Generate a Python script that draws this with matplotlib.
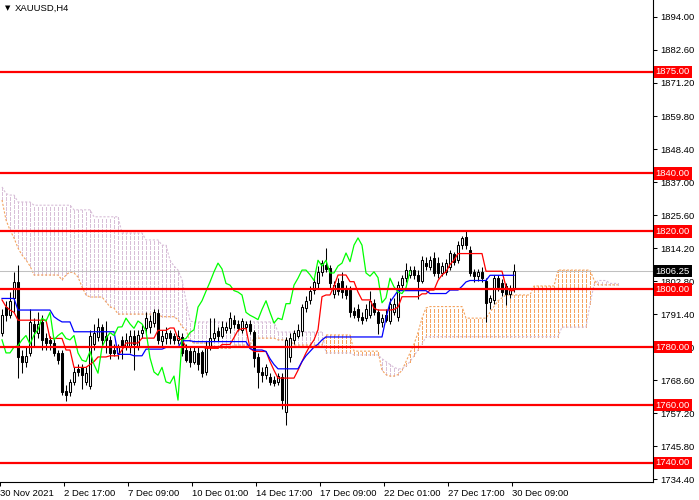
import numpy as np
import matplotlib
matplotlib.use("Agg")
import matplotlib.pyplot as plt

plt.rcParams['font.family'] = ['Liberation Sans', 'DejaVu Sans']

# chart data, H4 bars
symbol = 'XAUUSD,H4'
opens = [1785, 1794, 1791, 1797, 1802.5, 1777, 1775, 1778, 1788, 1785,
         1788.5, 1783, 1782.5, 1781.5, 1778, 1778, 1765, 1764.5, 1768, 1772.5,
         1773, 1768, 1766.5, 1781, 1783.5, 1787, 1784, 1782.5, 1779, 1778,
         1782.5, 1780.5, 1780, 1784, 1780, 1785, 1786.6, 1787, 1788.3, 1791.7,
         1782, 1783, 1785, 1784, 1782.5, 1783.5, 1779, 1778.5, 1775, 1778,
         1778.3, 1771.4, 1780, 1783, 1785.5, 1784, 1786, 1786.6, 1789.5, 1788,
         1786, 1787, 1788, 1785.3, 1776.5, 1771.4, 1770.3, 1769.6, 1768.5, 1768,
         1769.6, 1757.6, 1776.6, 1782.5, 1784, 1785.7, 1793.5, 1796.3, 1799.7, 1802,
         1806, 1808.5, 1807.3, 1798.5, 1802, 1803, 1800, 1799.7, 1792.5, 1793,
         1790.5, 1790, 1791, 1795.3, 1792, 1788.5, 1791, 1789, 1792, 1790.5,
         1801.4, 1803.8, 1805, 1806.5, 1805, 1803, 1809, 1807.7, 1810.8, 1809,
         1805.5, 1806, 1807.7, 1812, 1810, 1815.2, 1818, 1813.5, 1806, 1804.5,
         1806, 1803, 1795.5, 1796.3, 1803.8, 1802, 1801, 1798.5, 1800]
highs = [1793, 1796, 1799, 1806, 1808.5, 1779, 1780, 1793, 1790, 1792,
         1791, 1785, 1784, 1783, 1779, 1779, 1767, 1769, 1773, 1774,
         1774, 1773, 1786, 1788, 1790, 1788, 1789, 1784, 1781, 1781,
         1784, 1785, 1786, 1786, 1786, 1788, 1792, 1791, 1793, 1793,
         1786, 1787, 1786, 1785, 1786, 1785, 1781, 1780, 1780, 1780,
         1779, 1782, 1790, 1790, 1787, 1789, 1788.5, 1792, 1791, 1789.5,
         1790, 1789, 1789.5, 1786, 1778, 1773, 1774, 1771, 1770, 1771,
         1771, 1783.5, 1785, 1786, 1788, 1795, 1797.5, 1801, 1804, 1808,
         1810, 1814.2, 1808.5, 1803, 1804, 1806, 1801.5, 1801, 1794, 1795,
         1792, 1795, 1799.5, 1796.5, 1793, 1791.5, 1793, 1797, 1797, 1803,
         1805, 1809, 1808, 1808, 1806.5, 1811.5, 1811, 1811.5, 1813, 1811,
         1809.5, 1810.5, 1813.5, 1813, 1816.5, 1818.5, 1820.5, 1815, 1807, 1807,
         1807.5, 1804, 1798, 1805, 1805, 1803.5, 1802, 1801.5, 1808.7]
lows = [1784, 1789, 1790, 1792, 1769.5, 1771, 1773, 1777, 1780, 1783,
        1779, 1779, 1779, 1777, 1774, 1763.5, 1761.5, 1763, 1767, 1770,
        1765.5, 1767, 1765.5, 1779, 1782, 1780, 1778, 1776, 1777, 1776,
        1776, 1779, 1778, 1772, 1779, 1783, 1785, 1785, 1787, 1781,
        1780, 1781, 1781, 1781, 1781, 1777, 1775, 1773, 1774, 1772,
        1769.6, 1770.5, 1779, 1782, 1782, 1783, 1785, 1785, 1786.5, 1785.5,
        1785, 1786, 1784.5, 1773, 1766, 1768, 1769, 1767, 1766.5, 1767,
        1758.5, 1753.1, 1775, 1781, 1783, 1784, 1792, 1795, 1798.5, 1800.5,
        1804.5, 1806, 1800.5, 1797, 1798, 1797, 1796.5, 1790.5, 1790, 1789,
        1788, 1789, 1790, 1791, 1784.5, 1787, 1788.5, 1788, 1791, 1789,
        1800, 1802.5, 1804, 1803.5, 1796.5, 1802, 1806.5, 1806.5, 1804.5, 1804,
        1804.5, 1805, 1806.5, 1808.5, 1809, 1814, 1814, 1804.5, 1802.5, 1803,
        1802.5, 1788.6, 1793, 1795, 1799.5, 1797.5, 1794.5, 1797, 1799]
closes = [1791, 1791, 1796, 1802.5, 1776.5, 1775, 1777, 1788.5, 1785.5, 1788,
          1782.5, 1781.5, 1781.5, 1778, 1775.5, 1764.5, 1763.5, 1768, 1771.5, 1771.5,
          1770.5, 1771, 1784, 1785, 1787, 1782.5, 1782.5, 1778, 1778, 1780,
          1780.5, 1782.5, 1784, 1781, 1784.2, 1786, 1790, 1789, 1792, 1782.5,
          1784, 1785, 1783, 1782.5, 1784, 1778, 1775.5, 1775, 1778.5, 1774,
          1771, 1780, 1783, 1785, 1784, 1786.9, 1787, 1790, 1788, 1786.5,
          1789, 1788, 1785.5, 1776.3, 1771.4, 1770.3, 1773, 1768, 1767.5, 1770,
          1761.7, 1782.5, 1783, 1785, 1786, 1793.8, 1796, 1799.3, 1802.5, 1806,
          1809, 1807, 1802, 1801.4, 1799.5, 1799, 1798, 1792, 1791, 1790.3,
          1789.5, 1793, 1796, 1792, 1788.3, 1790, 1789.5, 1795, 1795, 1801.4,
          1803.8, 1806.6, 1806.6, 1805, 1803, 1810, 1808, 1810, 1805.6, 1805.6,
          1808, 1809, 1812.5, 1809.5, 1815.2, 1817.7, 1815.2, 1805.6, 1804.5, 1806,
          1804, 1795.3, 1797, 1803.8, 1800.8, 1799, 1798.5, 1800.5, 1806.25]

# Ichimoku lines as shown on the chart
tenkan = [1796.3, 1794, 1792.8, 1792, 1789.3, 1789.3, 1789.3, 1789.3, 1789.3, 1789.3,
          1789.3, 1789.3, 1783, 1783, 1783, 1783, 1779, 1779, 1773, 1773,
          1773, 1773, 1774, 1775, 1776.6, 1776.6, 1776.6, 1777, 1777, 1777,
          1779, 1781.4, 1781.4, 1781.4, 1781.4, 1783.1, 1783.1, 1783.1, 1783.1, 1785.8,
          1785.8, 1785.8, 1786.6, 1786.6, 1783, 1782.5, 1780.1, 1780.1, 1780.1, 1780.1,
          1780.1, 1779.6, 1779.6, 1779.6, 1779.6, 1780.9, 1780.9, 1780.9, 1783.3, 1785.8,
          1786.4, 1786.4, 1779.6, 1778.5, 1778.5, 1778.5, 1778.5, 1775, 1772, 1769.3,
          1769.3, 1769.3, 1769.3, 1769.3, 1772, 1775, 1778, 1780.5, 1782.5, 1786,
          1797.4, 1798, 1798, 1801, 1804.9, 1804.9, 1804.9, 1802.6, 1802.6, 1799,
          1796.3, 1796.3, 1796.3, 1793.4, 1792.8, 1792.8, 1792.8, 1792.8, 1793, 1793.8,
          1797.4, 1797.4, 1797.4, 1797.4, 1797.4, 1798.4, 1798.4, 1799.7, 1799.7, 1803,
          1804.9, 1806, 1808.5, 1810, 1812.3, 1812.3, 1812.3, 1812.3, 1812.3, 1812.3,
          1812.3, 1806.2, 1806.2, 1806.2, 1806.2, 1806.2, 1800.8, 1799.5, 1799.5]
kijun = [1796.8, 1796.8, 1796.8, 1796.8, 1792.8, 1792.8, 1792.8, 1792.8, 1792.8, 1792.8,
         1792.8, 1792.8, 1792.8, 1790.5, 1789.5, 1788.7, 1788.7, 1788.7, 1785.3, 1785.3,
         1785.3, 1785.3, 1785.3, 1785.3, 1785.3, 1785.3, 1785.3, 1785.3, 1785.3, 1777.5,
         1777.5, 1777.5, 1777.5, 1777, 1777, 1777, 1779.3, 1779.3, 1779.3, 1779.3,
         1779.3, 1779.9, 1779.9, 1779.9, 1779.9, 1782.2, 1782.2, 1782.2, 1781.9, 1781.9,
         1781.9, 1781.9, 1781.9, 1781.9, 1781.9, 1781.9, 1781.9, 1781.9, 1781.9, 1781.9,
         1781.9, 1781.9, 1779.5, 1779, 1779, 1779, 1778.5, 1776, 1774, 1772.5,
         1772.5, 1772.5, 1772.5, 1772.5, 1772.5, 1775, 1777, 1778.5, 1780, 1781,
         1782.5, 1783.5, 1783.5, 1783.5, 1783.5, 1783.5, 1783.5, 1783.5, 1783.5, 1783.5,
         1783.5, 1783.5, 1783.5, 1783.5, 1783.5, 1783.5, 1790, 1795.5, 1797.5, 1799.5,
         1799.5, 1799.5, 1799.5, 1799.5, 1799.5, 1799.5, 1799.5, 1798.5, 1798.5, 1798.5,
         1798.5, 1798.5, 1799.7, 1799.7, 1799.7, 1801, 1802.5, 1803, 1803, 1803,
         1803, 1803, 1804.8, 1804.8, 1804.8, 1804.8, 1804.8, 1804.8, 1804.8]
span_a = [1830.8, 1823.9, 1820.4, 1817.7, 1814.2, 1811.8, 1810.1, 1808, 1804.9, 1804.9,
          1804.9, 1804.9, 1804.9, 1804.9, 1804.9, 1803.2, 1804.9, 1806, 1805.6, 1804.2,
          1800.8, 1798, 1797.3, 1797.3, 1797.3, 1797.3, 1795.6, 1793.9, 1793.5, 1791.4,
          1791.4, 1791.4, 1791.4, 1791.4, 1791.4, 1791.4, 1791.4, 1791.4, 1791.4, 1791.4,
          1790.5, 1790.5, 1790.5, 1790.5, 1789.5, 1787, 1786, 1782, 1781.4, 1781.4,
          1781.4, 1781.4, 1781.4, 1779.6, 1779.6, 1779.6, 1779.6, 1779.6, 1780.7, 1780.7,
          1780.7, 1780.7, 1780.7, 1783.1, 1783.1, 1783.1, 1783.1, 1783.1, 1783.1, 1782.5,
          1782.5, 1782.5, 1782.5, 1780.7, 1780.7, 1780.7, 1780.7, 1780.7, 1780.7, 1780.7,
          1780.7, 1784.2, 1784.2, 1784.2, 1784.2, 1784.2, 1784.2, 1784.2, 1778.6, 1778.6,
          1778.6, 1778.6, 1778.6, 1778.6, 1778.6, 1772, 1770.5, 1770, 1770, 1770.5,
          1772, 1775, 1778, 1781, 1785, 1790, 1793.5, 1794, 1794, 1794,
          1794, 1794, 1794, 1794, 1794, 1794, 1790, 1790, 1790, 1790,
          1790, 1790, 1792, 1794, 1796, 1797, 1798, 1798, 1798, 1798,
          1798, 1798, 1798, 1801.1, 1801.1, 1801.1, 1801.1, 1801.1, 1801.1, 1806.6,
          1806.6, 1806.6, 1806.6, 1806.6, 1806.6, 1806.6, 1806.6, 1806.6, 1803.2, 1801.5,
          1801.5, 1801.5, 1801.5, 1801.5, 1801.5]
span_b = [1835.3, 1833, 1832.5, 1832.5, 1830.1, 1830.1, 1830.1, 1830.1, 1829, 1829,
          1829, 1829, 1829, 1829, 1829, 1829, 1829, 1829, 1827.4, 1827.4,
          1827.4, 1827.4, 1827.4, 1825, 1825, 1825, 1825, 1825, 1825, 1825,
          1819.4, 1819.4, 1819.4, 1819.4, 1819.4, 1819.4, 1817, 1817, 1817, 1817,
          1815.2, 1815.2, 1810, 1808, 1806.6, 1803.2, 1796, 1789, 1788.7, 1788.7,
          1788.7, 1788.7, 1788.7, 1788.7, 1788.7, 1788.7, 1788.7, 1788.7, 1788.7, 1788.7,
          1788.7, 1788.7, 1788.7, 1788.7, 1788.7, 1788.7, 1788.7, 1788.7, 1788.7, 1785.2,
          1785.2, 1785.2, 1785.2, 1785.2, 1785.2, 1785.2, 1785.2, 1785.2, 1785.2, 1785.2,
          1785.2, 1778, 1778, 1778, 1778, 1778, 1778, 1778, 1777.3, 1777.3,
          1777.3, 1777.3, 1777.3, 1777.3, 1777.3, 1776, 1775, 1774, 1773, 1772.5,
          1772.5, 1773.5, 1775, 1777, 1779, 1781, 1783.6, 1783.6, 1783.6, 1783.6,
          1783.6, 1783.6, 1783.6, 1783.6, 1783.6, 1783.6, 1783.6, 1783.6, 1783.6, 1783.6,
          1783.6, 1783.6, 1783.6, 1783.6, 1783.6, 1783.6, 1783.6, 1783.6, 1783.6, 1783.6,
          1783.6, 1783.6, 1783.6, 1783.6, 1783.6, 1783.6, 1783.6, 1783.6, 1783.6, 1783.6,
          1786.9, 1786.9, 1786.9, 1786.9, 1786.9, 1786.9, 1786.9, 1795, 1801.5, 1803,
          1803, 1803, 1802, 1802, 1802]
chikou_shift = 26

levels = [1875, 1840, 1820, 1800, 1780, 1760, 1740]
last_price = 1806.25
y_ticks = [1894.0, 1882.6, 1871.2, 1859.8, 1848.4, 1837.0, 1825.6, 1814.2,
           1802.8, 1791.4, 1780.0, 1768.6, 1757.2, 1745.8, 1734.4]
x_tick_bars = [0, 16, 32, 48, 64, 80, 96, 112, 128]
x_tick_labels = ['30 Nov 2021', '2 Dec 17:00', '7 Dec 09:00', '10 Dec 01:00',
                 '14 Dec 17:00', '17 Dec 09:00', '22 Dec 01:00', '27 Dec 17:00',
                 '30 Dec 09:00']

o = np.array(opens)
h = np.array(highs)
l = np.array(lows)
c = np.array(closes)
bars = np.arange(len(c))
sa = np.array(span_a)
sb = np.array(span_b)
cloud_bars = np.arange(len(sa))

fig = plt.figure(figsize=(6.99, 5.0), dpi=100)
ax = fig.add_axes([0, 18 / 500, 653 / 699, 482 / 500])
ax.set_xlim(-0.5, 162.75)
ax.set_ylim(1733.42, 1899.86)

# cloud hatching (one dotted column per bar)
dash = (0, (3.0, 1.5))
up = sa >= sb
ax.vlines(cloud_bars[up], sb[up], sa[up], colors='#F4A460', linestyles=[dash],
          lw=0.72, antialiased=False, zorder=1)
ax.vlines(cloud_bars[~up], sa[~up], sb[~up], colors='#D8BFD8', linestyles=[dash],
          lw=0.72, antialiased=False, zorder=1)
ax.plot(cloud_bars, sa, color='#F4A460', ls=(0, (2.0, 1.5)), lw=0.8, zorder=1.1)
ax.plot(cloud_bars, sb, color='#D8BFD8', ls=(0, (2.0, 1.5)), lw=0.8, zorder=1.1)

# current price
ax.axhline(last_price, color='#C0C0C0', lw=0.75, zorder=1.5)

# candles
bull = c >= o
body_lo = np.minimum(o, c)
body_h = np.maximum(np.abs(c - o), 0.35)
ax.vlines(bars, l, h, colors='black', lw=0.75, zorder=2)
ax.bar(bars[bull], body_h[bull], bottom=body_lo[bull], width=0.5,
       color='white', edgecolor='black', lw=0.75, zorder=2.1)
ax.bar(bars[~bull], body_h[~bull], bottom=body_lo[~bull], width=0.5,
       color='black', edgecolor='black', lw=0.75, zorder=2.1)

# ichimoku lines
ax.plot(bars, tenkan, color='#FF0000', lw=0.9, zorder=3)
ax.plot(bars, kijun, color='#0000FF', lw=0.9, zorder=3)
ax.plot(bars[:len(c) - chikou_shift], c[chikou_shift:], color='#00FF00', lw=0.9, zorder=3)

# horizontal levels
ytr = ax.get_yaxis_transform()
for lvl in levels:
    ax.axhline(lvl, color='#FF0000', lw=1.6, zorder=4)
    ax.text(1.004, lvl, f'{lvl:.2f}', transform=ytr, va='center', ha='left',
            color='white', fontsize=6.8, clip_on=False, zorder=6,
            bbox=dict(boxstyle='square,pad=0.2', fc='#FF0000', ec='none'))
ax.text(1.004, last_price, f'{last_price:.2f}', transform=ytr, va='center', ha='left',
        color='white', fontsize=6.8, clip_on=False, zorder=6,
        bbox=dict(boxstyle='square,pad=0.2', fc='black', ec='none'))

# axes
for side in ['left', 'top']:
    ax.spines[side].set_visible(False)
for side in ['right', 'bottom']:
    ax.spines[side].set_linewidth(0.8)
ax.yaxis.tick_right()
ax.set_yticks(y_ticks)
ax.set_yticklabels([f'{v:.2f}' for v in y_ticks], fontsize=6.8)
ax.tick_params(axis='y', direction='out', length=3, width=0.75, pad=2)
ax.set_xticks(np.array(x_tick_bars) - 0.5)
ax.set_xticklabels(x_tick_labels, fontsize=6.8)
for lab in ax.get_xticklabels():
    lab.set_horizontalalignment('left')
ax.tick_params(axis='x', direction='out', length=3, width=0.75, pad=2)

ax.text(5 / 653, 1 - 8 / 482, '\u25bc', transform=ax.transAxes, fontsize=5,
        va='center', ha='left', family='DejaVu Sans')
ax.text(15 / 653, 1 - 8 / 482, symbol, transform=ax.transAxes, fontsize=6.8,
        va='center', ha='left')

fig.savefig('out.png', dpi=100)
